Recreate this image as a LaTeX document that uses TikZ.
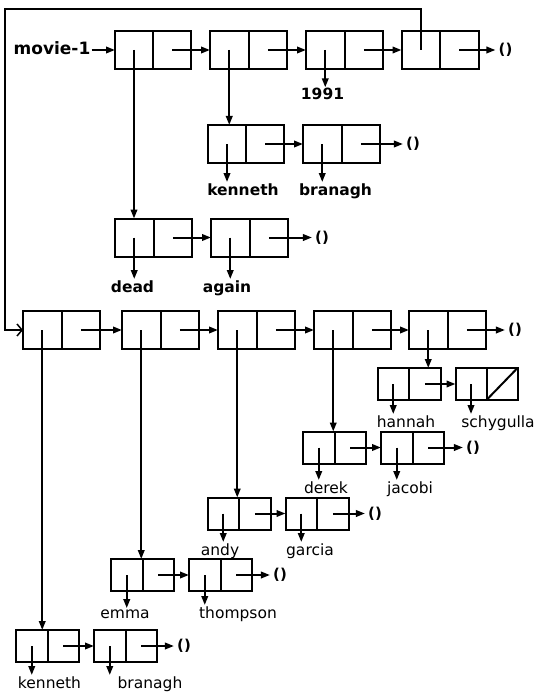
\documentclass[tikz,border=0pt]{standalone}
\usepackage{fontspec}
\setmainfont{DejaVu Sans}
\usetikzlibrary{arrows.meta,calc}
\tikzset{
  consbox/.style={draw, line width=2pt, inner sep=0pt, outer sep=0pt},
  divline/.style={line width=2pt},
  arr/.style={line width=2pt, -{Triangle[length=9pt,width=6.5pt]}},
  looparr/.style={line width=2pt, -{Straight Barb[length=5pt,width=12pt,line width=1.5pt]}},
  blab/.style={font=\fontsize{15.5}{18}\selectfont\bfseries, inner sep=1pt, anchor=base},
  rlab/.style={font=\fontsize{15.5}{18}\selectfont, inner sep=1pt, anchor=base},
  nil/.style={font=\fontsize{15}{18}\selectfont\bfseries, inner sep=3pt}
}
\newcommand\conscell[5]{%
  \node[consbox, minimum width=#4pt, minimum height=#5pt] (#1) at (#2,#3) {};
  \draw[divline] (#1.north) -- (#1.south);
  \coordinate (#1-l) at ($(#1.west)!0.25!(#1.east)$);
  \coordinate (#1-r) at ($(#1.west)!0.75!(#1.east)$);
}
\begin{document}
\begin{tikzpicture}[x=1pt,y=-1pt]
\useasboundingbox (0,0) rectangle (535,698);
% top list
\conscell{t1}{153}{50}{76}{38}
\conscell{t2}{248.5}{50}{77}{38}
\conscell{t3}{344.5}{50}{77}{38}
\conscell{t4}{440}{50}{77}{38}
\node[blab, font=\fontsize{17}{20}\selectfont\bfseries] (movie) at (52,55) {movie-1};
\node[nil] (nil1) at (505.5,50) {()};
\draw[arr] (movie.east |- t1.west) -- (t1.west);
\draw[arr] (t1-r) -- (t2.west);
\draw[arr] (t2-r) -- (t3.west);
\draw[arr] (t3-r) -- (t4.west);
\draw[arr] (t4-r) -- (nil1.west);
\node[blab] (y1991) at (322.5,100) {1991};
\draw[arr] (t3-l) -- (t3-l |- y1991.north);
% kenneth branagh (bold)
\conscell{k1}{246}{144}{76}{38}
\conscell{b1}{341.5}{144}{77}{38}
\node[nil] (nil2) at (413,144) {()};
\draw[arr] (k1-r) -- (b1.west);
\draw[arr] (b1-r) -- (nil2.west);
\draw[arr] (t2-l) -- (t2-l |- k1.north);
\node[blab] (lk1) at (243,195) {kenneth};
\node[blab] (lb1) at (335.5,195) {branagh};
\draw[arr] (k1-l) -- (k1-l |- lk1.north);
\draw[arr] (b1-l) -- (b1-l |- lb1.north);
% dead again
\conscell{d1}{153.5}{237.5}{77}{38}
\conscell{a1}{249.5}{237.5}{77}{38}
\node[nil] (nil3) at (322,237.5) {()};
\draw[arr] (d1-r) -- (a1.west);
\draw[arr] (a1-r) -- (nil3.west);
\draw[arr] (t1-l) -- (t1-l |- d1.north);
\node[blab] (ld1) at (132.5,292) {dead};
\node[blab] (la1) at (227,292) {again};
\draw[arr] (d1-l) -- (d1-l |- ld1.north);
\draw[arr] (a1-l) -- (a1-l |- la1.north);
% second list
\conscell{m1}{61.5}{330}{77}{38}
\conscell{m2}{160.5}{330}{77}{38}
\conscell{m3}{256.5}{330}{77}{38}
\conscell{m4}{352.5}{330}{77}{38}
\conscell{m5}{447.5}{330}{77}{38}
\node[nil] (nil4) at (515,330) {()};
\draw[arr] (m1-r) -- (m2.west);
\draw[arr] (m2-r) -- (m3.west);
\draw[arr] (m3-r) -- (m4.west);
\draw[arr] (m4-r) -- (m5.west);
\draw[arr] (m5-r) -- (nil4.west);
\coordinate (loopB) at (5,9);
\draw[looparr] (t4-l) |- (loopB) |- (m1.west);
% hannah schygulla
\conscell{h1}{409}{384}{63}{32}
\conscell{s1}{486.5}{384}{62}{32}
\draw[divline] (s1.south) -- (s1.north east);
\draw[arr] (h1-r) -- (s1.west);
\draw[arr] (m5-l) -- (m5-l |- h1.north);
\node[rlab] (lh1) at (406,427) {hannah};
\node[rlab] (ls1) at (498,427) {schygulla};
\draw[arr] (h1-l) -- (h1-l |- lh1.north);
\draw[arr] (s1-l) -- (s1-l |- ls1.north);
% derek jacobi
\conscell{dk}{334.5}{447.5}{63}{32}
\conscell{jc}{412.5}{447.5}{63}{32}
\node[nil] (nil5) at (473,447.5) {()};
\draw[arr] (dk-r) -- (jc.west);
\draw[arr] (jc-r) -- (nil5.west);
\draw[arr] (m4-l) -- (m4-l |- dk.north);
\node[rlab] (ldk) at (326,493) {derek};
\node[rlab] (ljc) at (410,493) {jacobi};
\draw[arr] (dk-l) -- (dk-l |- ldk.north);
\draw[arr] (jc-l) -- (jc-l |- ljc.north);
% andy garcia
\conscell{an}{239}{513.5}{63}{32}
\conscell{ga}{317}{513.5}{63}{32}
\node[nil] (nil6) at (375,513.5) {()};
\draw[arr] (an-r) -- (ga.west);
\draw[arr] (ga-r) -- (nil6.west);
\draw[arr] (m3-l) -- (m3-l |- an.north);
\node[rlab] (lan) at (220,555) {andy};
\node[rlab] (lga) at (310,555) {garcia};
\draw[arr] (an-l) -- (an-l |- lan.north);
\draw[arr] (ga-l) -- (ga-l |- lga.north);
% emma thompson
\conscell{em}{142.5}{575}{63}{32}
\conscell{th}{220.5}{575}{63}{32}
\node[nil] (nil7) at (280,575) {()};
\draw[arr] (em-r) -- (th.west);
\draw[arr] (th-r) -- (nil7.west);
\draw[arr] (m2-l) -- (m2-l |- em.north);
\node[rlab] (lem) at (125,618) {emma};
\node[rlab] (lth) at (238,618) {thompson};
\draw[arr] (em-l) -- (em-l |- lem.north);
\draw[arr] (th-l) -- (th-l |- lth.north);
% kenneth branagh (regular)
\conscell{kn}{47.5}{646}{63}{32}
\conscell{br}{125.5}{646}{63}{32}
\node[nil] (nil8) at (184,646) {()};
\draw[arr] (kn-r) -- (br.west);
\draw[arr] (br-r) -- (nil8.west);
\draw[arr] (m1-l) -- (m1-l |- kn.north);
\node[rlab] (lkn) at (49.5,688) {kenneth};
\node[rlab] (lbr) at (150,688) {branagh};
\draw[arr] (kn-l) -- (kn-l |- lkn.north);
\draw[arr] (br-l) -- (br-l |- lbr.north);
\end{tikzpicture}
\end{document}
